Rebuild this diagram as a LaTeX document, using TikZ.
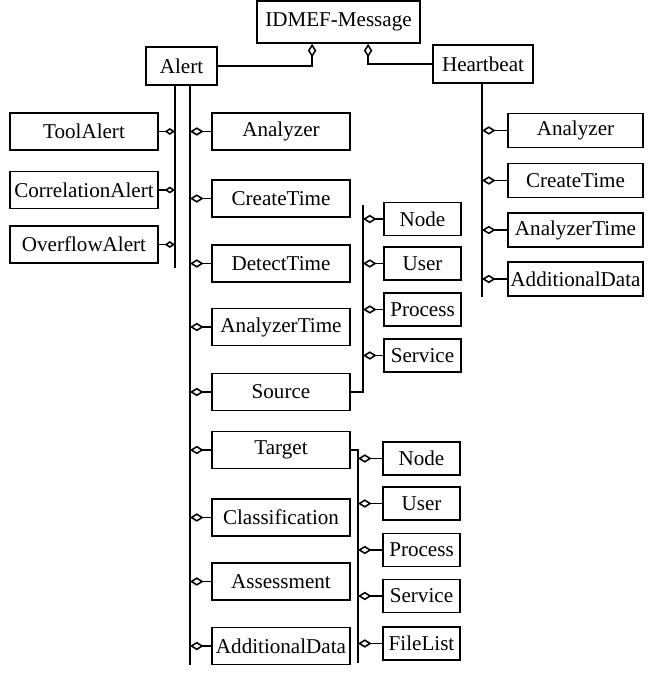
\documentclass[tikz,border=0pt]{standalone}
\usepackage{fontspec}
\setmainfont{Liberation Serif}
\usetikzlibrary{arrows.meta}

\begin{document}
\begin{tikzpicture}[
  x=0.25mm, y=-0.25mm,
  every node/.style={font=\fontsize{15}{16}\selectfont},
  box/.style={
    draw, line width=1.1pt, inner sep=1pt, align=center,
    minimum height=9.2mm,
  },
  topbox/.style={box, minimum width=40.8mm, minimum height=10.5mm},
  subbox/.style={box, minimum width=37mm},
  attr/.style={box, minimum width=34.5mm},
  part/.style={box, minimum width=19.2mm, minimum height=8.3mm},
  hbattr/.style={box, minimum width=33.8mm, minimum height=8.6mm},
  bus/.style={line width=1.1pt},
  agg/.style={line width=1.1pt, -{Diamond[open,length=3.4mm,width=2.1mm]}},
  sub/.style={line width=1.1pt, -{Diamond[open,length=2.6mm,width=1.7mm]}},
]
  \useasboundingbox (0,0) rectangle (654,675);

  % Root and its two message kinds
  \node[topbox] (msg) at (338.5,22) {IDMEF-Message};
  \node[box, minimum width=17.8mm, minimum height=9.5mm] (alert) at (181.5,66) {Alert};
  \node[box, minimum width=25mm, minimum height=9.5mm] (hb) at (483,64) {Heartbeat};

  \draw[agg] (alert.east) -| ([xshift=-6.6mm]msg.south);
  \draw[agg] (hb.west) -| ([xshift=7.4mm]msg.south);

  % Alert: two vertical buses
  \coordinate (lbus) at (175,268);
  \coordinate (rbus) at (190,665);
  \draw[bus] (alert.south -| lbus) -- (lbus);
  \draw[bus] (alert.south -| rbus) -- (rbus);

  % Alert subclasses on the left
  \node[subbox] (tool) at (84,131.5) {ToolAlert};
  \node[subbox] (corr) at (84,190)   {CorrelationAlert};
  \node[subbox] (over) at (84,244.5) {OverflowAlert};

  \draw[sub] (tool.east) -- (tool.east -| lbus);
  \draw[sub] (corr.east) -- (corr.east -| lbus);
  \draw[sub] (over.east) -- (over.east -| lbus);

  % Alert attributes on the right
  \node[attr] (an)  at (281,131.5) {Analyzer};
  \node[attr] (ct)  at (281,198.5) {CreateTime};
  \node[attr] (dt)  at (281,263.5) {DetectTime};
  \node[attr] (at)  at (281,327)   {AnalyzerTime};
  \node[attr] (src) at (281,392)   {Source};
  \node[attr] (tgt) at (281,450)   {Target};
  \node[attr] (cl)  at (281,517.5) {Classification};
  \node[attr] (asm) at (281,581.5) {Assessment};
  \node[attr] (ad)  at (281,646)   {AdditionalData};

  \draw[agg] (an.west)  -- (an.west -| rbus);
  \draw[agg] (ct.west)  -- (ct.west -| rbus);
  \draw[agg] (dt.west)  -- (dt.west -| rbus);
  \draw[agg] (at.west)  -- (at.west -| rbus);
  \draw[agg] (src.west) -- (src.west -| rbus);
  \draw[agg] (tgt.west) -- (tgt.west -| rbus);
  \draw[agg] (cl.west)  -- (cl.west -| rbus);
  \draw[agg] (asm.west) -- (asm.west -| rbus);
  \draw[agg] (ad.west)  -- (ad.west -| rbus);

  % Source parts
  \coordinate (sbus) at (363,205);
  \draw[bus] (src.east) -| (sbus);
  \node[part] (sn) at (422.5,219)   {Node};
  \node[part] (su) at (422.5,263.5) {User};
  \node[part] (sp) at (422.5,309.5) {Process};
  \node[part] (ss) at (422.5,355.5) {Service};

  \draw[agg] (sn.west) -- (sn.west -| sbus);
  \draw[agg] (su.west) -- (su.west -| sbus);
  \draw[agg] (sp.west) -- (sp.west -| sbus);
  \draw[agg] (ss.west) -- (ss.west -| sbus);

  % Target parts
  \coordinate (tbus) at (358,663);
  \draw[bus] (tgt.east) -| (tbus);
  \node[part] (tn) at (421.5,458.5) {Node};
  \node[part] (tu) at (421.5,503.5) {User};
  \node[part] (tp) at (421.5,550)   {Process};
  \node[part] (ts) at (421.5,596)   {Service};
  \node[part] (tf) at (421.5,643.5) {FileList};

  \draw[agg] (tn.west) -- (tn.west -| tbus);
  \draw[agg] (tu.west) -- (tu.west -| tbus);
  \draw[agg] (tp.west) -- (tp.west -| tbus);
  \draw[agg] (ts.west) -- (ts.west -| tbus);
  \draw[agg] (tf.west) -- (tf.west -| tbus);

  % Heartbeat attributes
  \coordinate (hbus) at (482,297);
  \draw[bus] (hb.south -| hbus) -- (hbus);
  \node[hbattr] (han) at (575.5,130.5) {Analyzer};
  \node[hbattr] (hct) at (575.5,180.5) {CreateTime};
  \node[hbattr] (hat) at (575.5,230)   {AnalyzerTime};
  \node[hbattr] (had) at (575.5,279)   {AdditionalData};

  \draw[agg] (han.west) -- (han.west -| hbus);
  \draw[agg] (hct.west) -- (hct.west -| hbus);
  \draw[agg] (hat.west) -- (hat.west -| hbus);
  \draw[agg] (had.west) -- (had.west -| hbus);
\end{tikzpicture}
\end{document}
